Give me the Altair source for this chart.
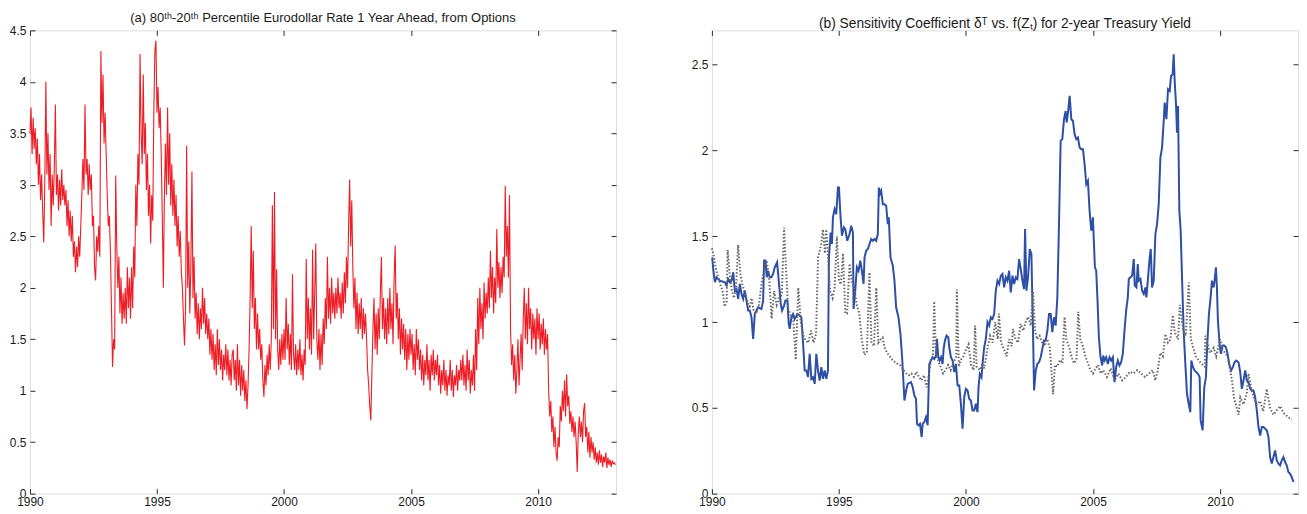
import altair as alt
import pandas as pd

# ---------------- data ----------------
YEAR_TICKS = [1990, 1995, 2000, 2005, 2010]
LEFT_Y_TICKS = [0, 0.5, 1, 1.5, 2, 2.5, 3, 3.5, 4, 4.5]
RIGHT_Y_TICKS = [0, 0.5, 1, 1.5, 2, 2.5]
X_DOMAIN = [1990, 2013.07]
LEFT_Y_DOMAIN = [0, 4.5]
RIGHT_Y_DOMAIN = [0, 2.7]

LEFT_TITLE = "(a) 80ᵗʰ-20ᵗʰ Percentile Eurodollar Rate 1 Year Ahead, from Options"
RIGHT_TITLE = "(b) Sensitivity Coefficient δᵀ vs. f(Zₜ) for 2-year Treasury Yield"

# panel (a): semi-monthly readings, one row per year
r1990 = [3.5, 3.75, 3.3, 3.65, 3.35, 3.55, 3.2, 3.45, 3.0, 3.3, 2.85, 3.1, 2.75, 2.44, 3.0, 4.0, 3.1, 3.5, 2.95, 3.3, 2.6, 3.1, 2.8, 3.17]
r1991 = [3.78, 2.9, 3.1, 2.75, 3.05, 2.8, 3.15, 2.85, 3.0, 2.8, 2.95, 2.6, 2.85, 2.5, 2.75, 2.45, 2.7, 2.3, 2.45, 2.15, 2.4, 2.2, 2.5, 2.3]
r1992 = [2.6, 2.9, 3.25, 2.95, 3.78, 3.1, 3.25, 2.9, 3.2, 2.95, 3.1, 2.6, 2.7, 2.2, 2.07, 2.5, 2.35, 2.6, 2.3, 4.3, 3.6, 4.07, 3.4, 3.7]
r1993 = [3.3, 2.9, 2.6, 2.7, 2.35, 1.8, 1.23, 1.5, 1.4, 3.09, 2.4, 2.0, 2.3, 1.75, 2.1, 1.65, 1.95, 1.7, 2.0, 1.65, 2.2, 1.8, 2.1, 1.7]
r1994 = [2.2, 1.8, 2.4, 2.1, 3.0, 2.6, 3.3, 3.0, 4.27, 3.5, 3.2, 4.07, 3.3, 3.6, 2.95, 3.3, 2.7, 3.0, 2.43, 2.9, 2.65, 3.7, 4.3, 4.4]
r1995 = [3.7, 3.95, 3.55, 3.75, 3.3, 2.7, 2.0, 2.9, 3.4, 2.9, 3.75, 3.0, 3.5, 2.8, 3.2, 2.7, 3.05, 2.6, 2.9, 2.4, 2.7, 2.3, 2.55, 2.15]
r1996 = [2.0, 1.7, 1.44, 1.8, 3.38, 2.0, 2.45, 1.75, 2.2, 3.13, 1.9, 2.3, 1.7, 1.95, 1.55, 1.85, 1.5, 1.8, 1.6, 2.0, 1.65, 1.9, 1.55, 1.75]
r1997 = [1.5, 1.7, 1.35, 1.6, 1.3, 1.55, 1.2, 1.45, 1.15, 1.6, 1.25, 1.5, 1.2, 1.4, 1.1, 1.35, 1.2, 1.45, 1.15, 1.4, 1.1, 1.3, 1.05, 1.35]
r1998 = [1.4, 1.1, 1.3, 1.0, 1.45, 1.05, 1.3, 0.95, 1.25, 1.0, 1.2, 0.9, 1.1, 0.82, 1.05, 1.4, 1.9, 2.6, 1.8, 2.36, 1.6, 1.9, 1.4, 1.75]
r1999 = [1.4, 1.6, 1.3, 1.45, 1.1, 0.94, 1.25, 1.05, 1.35, 1.15, 1.45, 1.2, 1.5, 2.8, 1.6, 2.93, 1.5, 2.18, 1.4, 1.2, 1.5, 1.25, 1.55, 1.3]
r2000 = [1.6, 1.3, 1.9, 1.4, 1.65, 1.25, 1.55, 1.2, 2.13, 1.35, 1.2, 1.45, 1.15, 1.4, 1.2, 1.5, 1.15, 1.35, 1.1, 1.4, 1.25, 2.28, 1.5, 1.9]
r2001 = [1.4, 1.8, 1.35, 2.37, 1.5, 1.95, 2.43, 1.5, 1.3, 1.6, 1.2, 1.55, 1.25, 1.7, 1.45, 1.9, 1.6, 2.3, 1.7, 2.0, 1.65, 2.1, 1.75, 1.95]
r2002 = [1.7, 2.0, 1.75, 2.1, 1.8, 1.95, 1.7, 2.05, 1.75, 2.15, 1.85, 2.3, 2.0, 2.6, 3.05, 2.4, 2.85, 2.2, 1.8, 2.1, 1.6, 1.95, 1.55, 1.85]
r2003 = [1.6, 1.9, 1.5, 1.8, 1.55, 1.75, 1.5, 1.2, 1.05, 0.85, 0.71, 1.16, 1.6, 1.9, 1.4, 1.75, 1.35, 1.8, 1.5, 1.95, 2.3, 1.6, 1.9, 1.5]
r2004 = [1.8, 1.45, 1.9, 1.55, 2.0, 1.6, 1.85, 1.45, 2.1, 2.41, 1.7, 1.95, 1.5, 1.8, 1.35, 1.7, 1.4, 1.65, 1.3, 1.6, 1.2, 1.55, 1.3, 1.6]
r2005 = [1.35, 1.55, 1.2, 1.45, 1.15, 1.6, 1.3, 1.5, 1.2, 1.4, 1.1, 1.35, 1.05, 1.3, 1.15, 1.45, 1.1, 1.3, 1.0, 1.35, 1.15, 1.4, 1.1, 1.3]
r2006 = [1.15, 1.35, 1.05, 1.25, 0.97, 1.2, 1.05, 1.3, 1.0, 1.2, 0.95, 1.15, 1.05, 1.3, 1.0, 1.2, 0.94, 1.15, 1.05, 1.25, 1.0, 1.2, 1.1, 1.3]
r2007 = [1.1, 1.35, 1.05, 1.25, 1.0, 1.4, 1.1, 1.3, 0.97, 1.2, 1.05, 1.35, 1.0, 1.6, 1.2, 1.9, 1.45, 2.0, 1.6, 1.85, 1.5, 2.05, 1.7, 1.95]
r2008 = [1.75, 2.1, 1.8, 2.36, 1.9, 2.2, 1.75, 2.1, 1.85, 2.57, 2.0, 2.25, 1.9, 2.2, 1.95, 2.3, 2.1, 2.99, 2.3, 2.6, 2.1, 2.9, 1.6, 1.25]
r2009 = [1.45, 1.1, 1.35, 0.97, 1.2, 1.5, 1.05, 1.3, 1.55, 1.2, 1.7, 2.0, 1.5, 1.85, 1.45, 2.0, 1.6, 1.8, 1.4, 1.75, 1.5, 1.7, 1.35, 1.8]
r2010 = [1.5, 1.75, 1.4, 1.65, 1.45, 1.7, 1.35, 1.6, 1.4, 1.55, 1.0, 0.75, 0.9, 0.6, 0.75, 0.45, 0.65, 0.4, 0.32, 0.55, 0.45, 0.85, 0.7, 1.0]
r2011 = [0.8, 1.1, 0.75, 1.16, 0.85, 0.95, 0.68, 0.8, 0.6, 0.75, 0.55, 0.7, 0.5, 0.21, 0.6, 0.75, 0.55, 0.7, 0.5, 0.8, 0.88, 0.55, 0.65, 0.4]
r2012 = [0.6, 0.35, 0.55, 0.4, 0.5, 0.33, 0.45, 0.3, 0.4, 0.28, 0.42, 0.3, 0.38, 0.26, 0.36, 0.3, 0.4, 0.25, 0.35, 0.28, 0.33, 0.26, 0.32, 0.29]
r2013 = [0.3, 0.28]

# panel (b): sensitivity coefficient (solid blue)
blue_years = [
    1990.013, 1990.052, 1990.118, 1990.183, 1990.314, 1990.510, 1990.576, 1990.641, 1990.707, 1990.772,
    1990.838, 1990.903, 1990.969, 1991.034, 1991.099, 1991.165, 1991.230, 1991.296, 1991.361, 1991.427,
    1991.492, 1991.558, 1991.623, 1991.688, 1991.754, 1991.819, 1991.950, 1992.016, 1992.055, 1992.107,
    1992.160, 1992.212, 1992.277, 1992.343, 1992.408, 1992.474, 1992.565, 1992.631, 1992.709, 1992.762,
    1992.840, 1992.893, 1992.971, 1993.024, 1993.063, 1993.128, 1993.194, 1993.259, 1993.364, 1993.455,
    1993.521, 1993.586, 1993.652, 1993.717, 1993.783, 1993.848, 1993.914, 1993.979, 1994.045, 1994.110,
    1994.175, 1994.241, 1994.306, 1994.372, 1994.437, 1994.503, 1994.568, 1994.607, 1994.673, 1994.725,
    1994.764, 1994.830, 1994.895, 1994.961, 1995.000, 1995.065, 1995.118, 1995.196, 1995.249, 1995.327,
    1995.419, 1995.484, 1995.550, 1995.576, 1995.641, 1995.707, 1995.772, 1995.838, 1995.903, 1995.969,
    1996.008, 1996.073, 1996.139, 1996.204, 1996.270, 1996.335, 1996.401, 1996.466, 1996.531, 1996.571,
    1996.610, 1996.662, 1996.728, 1996.793, 1996.859, 1996.924, 1996.963, 1997.029, 1997.120, 1997.186,
    1997.251, 1997.343, 1997.421, 1997.487, 1997.579, 1997.644, 1997.707, 1997.838, 1997.903, 1997.968,
    1998.034, 1998.073, 1998.126, 1998.191, 1998.256, 1998.296, 1998.361, 1998.427, 1998.492, 1998.557,
    1998.623, 1998.688, 1998.754, 1998.819, 1998.859, 1998.911, 1998.963, 1999.016, 1999.081, 1999.120,
    1999.173, 1999.238, 1999.304, 1999.343, 1999.408, 1999.474, 1999.539, 1999.605, 1999.670, 1999.736,
    1999.801, 1999.866, 1999.932, 1999.997, 2000.063, 2000.128, 2000.194, 2000.259, 2000.325, 2000.390,
    2000.455, 2000.495, 2000.547, 2000.613, 2000.652, 2000.717, 2000.783, 2000.848, 2000.914, 2000.979,
    2001.044, 2001.110, 2001.175, 2001.241, 2001.306, 2001.372, 2001.437, 2001.503, 2001.568, 2001.633,
    2001.699, 2001.764, 2001.830, 2001.895, 2001.961, 2002.026, 2002.092, 2002.157, 2002.222, 2002.288,
    2002.327, 2002.380, 2002.445, 2002.510, 2002.576, 2002.641, 2002.681, 2002.746, 2002.811, 2002.877,
    2002.942, 2003.008, 2003.073, 2003.139, 2003.204, 2003.270, 2003.335, 2003.400, 2003.466, 2003.531,
    2003.597, 2003.662, 2003.728, 2003.793, 2003.859, 2003.924, 2003.963, 2004.016, 2004.081, 2004.147,
    2004.212, 2004.277, 2004.343, 2004.408, 2004.474, 2004.539, 2004.605, 2004.670, 2004.735, 2004.801,
    2004.866, 2004.932, 2004.997, 2005.075, 2005.127, 2005.179, 2005.232, 2005.297, 2005.363, 2005.402,
    2005.454, 2005.520, 2005.585, 2005.651, 2005.716, 2005.782, 2005.847, 2005.912, 2005.978, 2006.043,
    2006.109, 2006.174, 2006.240, 2006.305, 2006.371, 2006.410, 2006.475, 2006.541, 2006.606, 2006.645,
    2006.711, 2006.763, 2006.802, 2006.868, 2006.933, 2006.999, 2007.064, 2007.103, 2007.169, 2007.221,
    2007.274, 2007.326, 2007.391, 2007.457, 2007.522, 2007.588, 2007.653, 2007.719, 2007.784, 2007.823,
    2007.889, 2007.954, 2008.020, 2008.072, 2008.137, 2008.177, 2008.216, 2008.268, 2008.308, 2008.347,
    2008.399, 2008.452, 2008.504, 2008.569, 2008.635, 2008.700, 2008.766, 2008.831, 2008.870, 2008.936,
    2009.001, 2009.067, 2009.132, 2009.198, 2009.237, 2009.316, 2009.381, 2009.446, 2009.499, 2009.564,
    2009.630, 2009.682, 2009.747, 2009.787, 2009.839, 2009.878, 2009.918, 2009.983, 2010.035, 2010.101,
    2010.166, 2010.232, 2010.297, 2010.363, 2010.441, 2010.507, 2010.572, 2010.637, 2010.729, 2010.795,
    2010.860, 2010.926, 2010.991, 2011.056, 2011.122, 2011.187, 2011.253, 2011.318, 2011.384, 2011.449,
    2011.514, 2011.580, 2011.645, 2011.711, 2011.776, 2011.842, 2011.907, 2011.972, 2012.038, 2012.103,
    2012.169, 2012.234, 2012.300, 2012.365, 2012.431, 2012.496, 2012.561, 2012.627, 2012.692, 2012.758,
    2012.823, 2012.889,
]
blue_vals = [
    1.377, 1.309, 1.232, 1.261, 1.241, 1.232, 1.212, 1.251, 1.232, 1.241,
    1.290, 1.183, 1.193, 1.135, 1.222, 1.164, 1.135, 1.183, 1.125, 1.067,
    1.067, 1.028, 0.902, 1.047, 1.067, 1.086, 1.076, 1.125, 1.358, 1.358,
    1.261, 1.299, 1.261, 1.261, 1.280, 1.319, 1.348, 1.241, 1.106, 1.067,
    1.096, 1.125, 1.125, 0.989, 0.960, 1.028, 1.047, 1.018, 1.047, 1.038,
    1.028, 0.882, 0.718, 0.718, 0.679, 0.815, 0.669, 0.679, 0.640, 0.815,
    0.718, 0.659, 0.737, 0.669, 0.718, 0.669, 0.718, 1.377, 1.522, 1.455,
    1.610, 1.658, 1.629, 1.784, 1.784, 1.610, 1.503, 1.552, 1.542, 1.474,
    1.513, 1.561, 1.523, 1.076, 1.183, 1.319, 1.299, 1.358, 1.299, 1.222,
    1.377, 1.416, 1.426, 1.455, 1.484, 1.474, 1.484, 1.474, 1.513, 1.784,
    1.746, 1.765, 1.687, 1.687, 1.678, 1.571, 1.610, 1.377, 1.329, 1.241,
    1.086, 1.028, 0.931, 0.795, 0.543, 0.601, 0.640, 0.650, 0.621, 0.572,
    0.553, 0.407, 0.398, 0.407, 0.330, 0.407, 0.417, 0.446, 0.398, 0.756,
    0.776, 0.795, 0.785, 0.805, 0.902, 0.795, 0.776, 0.795, 0.756, 0.844,
    0.892, 0.921, 0.912, 0.853, 0.795, 0.776, 0.708, 0.756, 0.630, 0.630,
    0.524, 0.378, 0.562, 0.611, 0.601, 0.553, 0.543, 0.485, 0.485, 0.524,
    0.475, 0.621, 0.698, 0.679, 0.756, 0.853, 0.902, 0.999, 0.979, 1.028,
    1.018, 1.047, 1.183, 1.241, 1.222, 1.270, 1.280, 1.202, 1.261, 1.241,
    1.299, 1.173, 1.270, 1.222, 1.261, 1.251, 1.367, 1.309, 1.241, 1.193,
    1.542, 1.183, 1.261, 1.426, 1.396, 0.931, 0.601, 0.718, 0.756, 0.766,
    0.795, 0.844, 0.892, 0.892, 0.950, 1.047, 1.047, 0.941, 1.028, 0.979,
    1.144, 1.571, 2.056, 2.066, 2.182, 2.230, 2.163, 2.221, 2.318, 2.182,
    2.172, 2.095, 2.066, 2.075, 2.017, 2.007, 2.007, 1.920, 1.804, 1.823,
    1.649, 1.532, 1.610, 1.319, 1.299, 1.125, 0.912, 0.795, 0.747, 0.805,
    0.776, 0.795, 0.756, 0.795, 0.776, 0.795, 0.650, 0.737, 0.776, 0.747,
    0.766, 0.815, 0.950, 1.067, 1.144, 1.251, 1.261, 1.270, 1.367, 1.212,
    1.202, 1.338, 1.241, 1.251, 1.183, 1.164, 1.202, 1.144, 1.261, 1.358,
    1.426, 1.202, 1.241, 1.513, 1.571, 1.687, 1.959, 2.017, 2.172, 2.279,
    2.182, 2.357, 2.347, 2.434, 2.444, 2.560, 2.405, 2.269, 2.104, 2.259,
    1.649, 1.532, 1.261, 0.950, 0.756, 0.582, 0.524, 0.475, 0.776, 0.737,
    0.718, 0.708, 0.698, 0.679, 0.427, 0.369, 0.621, 0.679, 0.873, 1.047,
    1.144, 1.241, 1.202, 1.241, 1.319, 1.202, 1.009, 0.873, 0.815, 0.863,
    0.863, 0.853, 0.815, 0.756, 0.718, 0.737, 0.766, 0.776, 0.766, 0.708,
    0.611, 0.659, 0.718, 0.659, 0.650, 0.611, 0.601, 0.601, 0.562, 0.485,
    0.388, 0.339, 0.388, 0.388, 0.378, 0.369, 0.330, 0.213, 0.175, 0.213,
    0.252, 0.194, 0.175, 0.165, 0.194, 0.213, 0.184, 0.165, 0.126, 0.116,
    0.097, 0.068,
]

# panel (b): f(Z_t) (dotted grey)
gray_years = [
    1990.00, 1990.08, 1990.17, 1990.25, 1990.33, 1990.42, 1990.50, 1990.58, 1990.62, 1990.70,
    1990.79, 1990.87, 1990.95, 1991.03, 1991.12, 1991.20, 1991.30, 1991.40, 1991.48, 1991.56,
    1991.65, 1991.75, 1991.85, 1991.95, 1992.05, 1992.15, 1992.25, 1992.35, 1992.45, 1992.55,
    1992.65, 1992.75, 1992.84, 1992.92, 1993.00, 1993.10, 1993.20, 1993.30, 1993.40, 1993.50,
    1993.60, 1993.70, 1993.80, 1993.90, 1994.00, 1994.10, 1994.18, 1994.30, 1994.37, 1994.45,
    1994.50, 1994.57, 1994.65, 1994.75, 1994.83, 1994.92, 1995.00, 1995.08, 1995.16, 1995.25,
    1995.32, 1995.42, 1995.50, 1995.60, 1995.70, 1995.80, 1995.90, 1996.00, 1996.10, 1996.20,
    1996.28, 1996.38, 1996.47, 1996.55, 1996.65, 1996.72, 1996.80, 1996.90, 1997.00, 1997.10,
    1997.25, 1997.40, 1997.50, 1997.55, 1997.65, 1997.75, 1997.85, 1997.95, 1998.05, 1998.15,
    1998.25, 1998.35, 1998.45, 1998.55, 1998.62, 1998.70, 1998.75, 1998.82, 1998.90, 1999.00,
    1999.10, 1999.20, 1999.30, 1999.40, 1999.50, 1999.62, 1999.64, 1999.72, 1999.80, 1999.90,
    2000.00, 2000.10, 2000.20, 2000.30, 2000.36, 2000.42, 2000.55, 2000.65, 2000.72, 2000.85,
    2000.95, 2001.05, 2001.15, 2001.25, 2001.30, 2001.38, 2001.50, 2001.60, 2001.70, 2001.80,
    2001.85, 2001.95, 2002.05, 2002.15, 2002.25, 2002.35, 2002.45, 2002.55, 2002.64, 2002.72,
    2002.80, 2002.90, 2003.00, 2003.10, 2003.20, 2003.30, 2003.43, 2003.50, 2003.60, 2003.70,
    2003.80, 2003.88, 2003.95, 2004.05, 2004.15, 2004.25, 2004.35, 2004.42, 2004.50, 2004.60,
    2004.70, 2004.80, 2004.90, 2005.00, 2005.10, 2005.20, 2005.30, 2005.40, 2005.55, 2005.70,
    2005.85, 2006.00, 2006.15, 2006.30, 2006.45, 2006.60, 2006.75, 2006.90, 2007.05, 2007.20,
    2007.35, 2007.45, 2007.55, 2007.65, 2007.75, 2007.85, 2007.95, 2008.05, 2008.14, 2008.22,
    2008.35, 2008.42, 2008.55, 2008.65, 2008.77, 2008.85, 2008.95, 2009.05, 2009.15, 2009.25,
    2009.40, 2009.42, 2009.50, 2009.60, 2009.75, 2009.85, 2010.00, 2010.10, 2010.20, 2010.30,
    2010.47, 2010.55, 2010.66, 2010.73, 2010.80, 2010.92, 2011.05, 2011.12, 2011.25, 2011.35,
    2011.45, 2011.58, 2011.70, 2011.84, 2011.97, 2012.10, 2012.25, 2012.37, 2012.50, 2012.65,
    2012.82,
]
gray_vals = [
    1.43, 1.38, 1.30, 1.26, 1.22, 1.18, 1.09, 1.12, 1.42, 1.28,
    1.18, 1.14, 1.20, 1.45, 1.28, 1.22, 1.17, 1.12, 1.08, 1.14,
    1.06, 1.05, 1.10, 1.22, 1.30, 1.36, 1.26, 1.02, 1.18, 1.10,
    1.14, 1.16, 1.55, 1.30, 1.08, 1.04, 1.02, 0.78, 1.20, 1.00,
    0.92, 0.89, 0.88, 0.95, 0.88, 0.93, 1.38, 1.45, 1.54, 1.40,
    1.54, 1.38, 1.18, 1.14, 1.20, 1.50, 1.24, 1.22, 1.40, 1.05,
    1.05, 1.34, 1.24, 1.20, 1.10, 1.05, 0.90, 0.81, 0.82, 1.29,
    0.88, 0.86, 1.20, 0.88, 0.90, 0.91, 0.85, 0.82, 0.80, 0.78,
    0.76, 0.75, 0.73, 0.72, 0.70, 0.69, 0.70, 0.68, 0.71, 0.68,
    0.66, 0.69, 0.62, 0.70, 0.78, 0.80, 1.12, 0.80, 0.78, 0.74,
    0.70, 0.72, 0.75, 0.72, 0.76, 0.80, 1.19, 0.74, 0.78, 0.80,
    0.84, 0.87, 0.75, 0.72, 0.98, 0.74, 0.72, 0.76, 0.73, 0.85,
    0.92, 0.88, 1.00, 0.90, 1.05, 0.88, 0.84, 0.80, 0.90, 0.86,
    0.96, 0.90, 0.88, 0.99, 0.95, 1.00, 1.03, 0.98, 1.18, 0.95,
    0.90, 0.92, 0.88, 0.86, 0.90, 0.85, 0.58, 0.75, 0.74, 0.78,
    0.76, 1.03, 0.90, 0.86, 0.80, 0.76, 0.78, 1.06, 0.90, 0.86,
    0.80, 0.76, 0.72, 0.70, 0.73, 0.75, 0.70, 0.72, 0.68, 0.73,
    0.66, 0.70, 0.66, 0.68, 0.71, 0.70, 0.72, 0.70, 0.68, 0.70,
    0.72, 0.66, 0.72, 0.82, 0.80, 0.93, 0.88, 0.90, 1.04, 0.94,
    0.90, 1.10, 0.95, 0.92, 1.23, 0.90, 0.85, 0.80, 0.78, 0.76,
    0.74, 0.92, 0.88, 0.82, 0.85, 0.80, 0.90, 0.84, 0.82, 0.80,
    0.66, 0.56, 0.50, 0.46, 0.56, 0.52, 0.58, 0.70, 0.60, 0.55,
    0.52, 0.54, 0.48, 0.61, 0.50, 0.46, 0.49, 0.51, 0.47, 0.45,
    0.43,
]

# ---------------- tables ----------------
red_vals = (r1990 + r1991 + r1992 + r1993 + r1994 + r1995 + r1996 + r1997 + r1998 + r1999
            + r2000 + r2001 + r2002 + r2003 + r2004 + r2005 + r2006 + r2007 + r2008 + r2009
            + r2010 + r2011 + r2012 + r2013)
red_df = pd.DataFrame({"year": [1990 + i / 24 for i in range(len(red_vals))], "value": red_vals})
blue_df = pd.DataFrame({"year": blue_years, "value": blue_vals})
gray_df = pd.DataFrame({"year": gray_years, "value": gray_vals})

# ---------------- styling ----------------
FONT = "Liberation Sans"
TXT = "#1a1a1a"
FRAME = "#2b2b2b"
TICK = 5
W, H = 587, 464


def xscale():
    return alt.Scale(domain=X_DOMAIN, nice=False, zero=False)


def yscale(dom):
    return alt.Scale(domain=dom, nice=False, zero=False)


def x_axis(labels):
    return alt.Axis(orient="bottom" if labels else "top", values=YEAR_TICKS, format="d",
                    labels=labels, labelFlush=False, grid=False, domain=False,
                    ticks=True, tickSize=TICK, offset=-TICK, tickColor=FRAME, tickWidth=1,
                    labelPadding=3, labelFont=FONT, labelFontSize=12, labelColor=TXT,
                    title=None)


def y_axis(vals, labels):
    return alt.Axis(orient="left" if labels else "right", values=vals, format="~g",
                    labels=labels, labelFlush=False, grid=False, domain=False,
                    ticks=True, tickSize=TICK, offset=-TICK, tickColor=FRAME, tickWidth=1,
                    labelPadding=4, labelFont=FONT, labelFontSize=12, labelColor=TXT,
                    title=None)


def title(text, size):
    return alt.TitleParams(text=text, font=FONT, fontSize=size, fontWeight="normal",
                           color=TXT, anchor="middle", frame="group", offset=-1)


def mirror(df, ydom, yvals):
    return alt.Chart(df).mark_line(opacity=0).encode(
        x=alt.X("year:Q", scale=xscale(), axis=x_axis(False)),
        y=alt.Y("value:Q", scale=yscale(ydom), axis=y_axis(yvals, False)),
    )


red_line = alt.Chart(red_df).mark_line(color="#ee1c24", strokeWidth=1.1).encode(
    x=alt.X("year:Q", scale=xscale(), axis=x_axis(True)),
    y=alt.Y("value:Q", scale=yscale(LEFT_Y_DOMAIN), axis=y_axis(LEFT_Y_TICKS, True)),
)
left = alt.layer(red_line, mirror(red_df, LEFT_Y_DOMAIN, LEFT_Y_TICKS)).resolve_scale(
    x="independent", y="independent"
).properties(width=W, height=H, title=title(LEFT_TITLE, 13))

blue_line = alt.Chart(blue_df).mark_line(color="#2e4fa6", strokeWidth=2).encode(
    x=alt.X("year:Q", scale=xscale(), axis=x_axis(True)),
    y=alt.Y("value:Q", scale=yscale(RIGHT_Y_DOMAIN), axis=y_axis(RIGHT_Y_TICKS, True)),
)
gray_line = alt.Chart(gray_df).mark_line(color="#686868", strokeWidth=2,
                                         strokeDash=[1.5, 1.9]).encode(
    x=alt.X("year:Q", scale=xscale(), axis=None),
    y=alt.Y("value:Q", scale=yscale(RIGHT_Y_DOMAIN), axis=None),
)
right = alt.layer(
    blue_line, gray_line, mirror(blue_df, RIGHT_Y_DOMAIN, RIGHT_Y_TICKS),
).resolve_scale(x="independent", y="independent").properties(
    width=W, height=H, title=title(RIGHT_TITLE, 13.8)
)

chart = alt.hconcat(left, right, spacing=72).properties(
    padding={"left": 0, "top": 3, "right": 0, "bottom": 0}
).configure_view(stroke=FRAME, strokeWidth=1.3).configure(background="white")

chart.save("out.html", embed_options={"renderer": "svg", "actions": False})
